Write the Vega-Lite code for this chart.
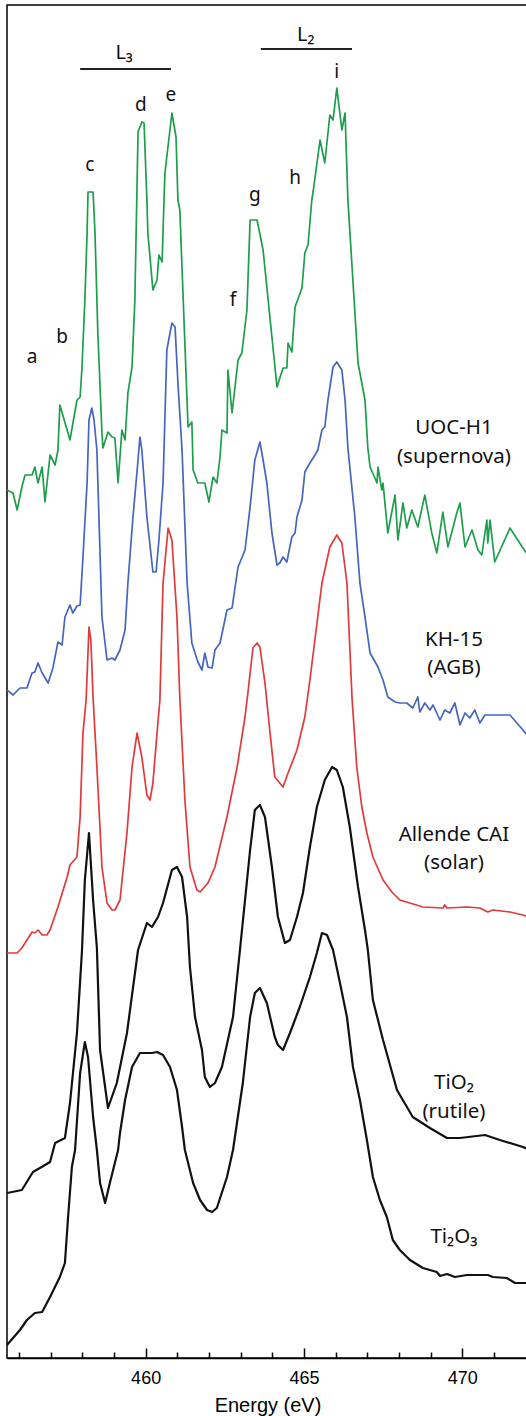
{
 "$schema": "https://vega.github.io/schema/vega-lite/v6.json",
 "width": 521,
 "height": 1353,
 "autosize": {"type": "none"},
 "padding": {"left": 7, "top": 5, "right": 0, "bottom": 58},
 "background": "white",
 "config": {"view": {"stroke": "#000", "strokeWidth": 1.5}},
 "datasets": {
  "spectra": [
   {"sample":"UOC-H1","energy":455.62,"intensity":868},{"sample":"UOC-H1","energy":455.81,"intensity":865},{"sample":"UOC-H1","energy":455.94,"intensity":848},{"sample":"UOC-H1","energy":456.09,"intensity":871},{"sample":"UOC-H1","energy":456.19,"intensity":883},{"sample":"UOC-H1","energy":456.41,"intensity":883},{"sample":"UOC-H1","energy":456.50,"intensity":891},{"sample":"UOC-H1","energy":456.60,"intensity":875},{"sample":"UOC-H1","energy":456.73,"intensity":891},{"sample":"UOC-H1","energy":456.82,"intensity":856},{"sample":"UOC-H1","energy":456.98,"intensity":903},{"sample":"UOC-H1","energy":457.14,"intensity":893},{"sample":"UOC-H1","energy":457.23,"intensity":908},{"sample":"UOC-H1","energy":457.29,"intensity":953},{"sample":"UOC-H1","energy":457.52,"intensity":928},{"sample":"UOC-H1","energy":457.61,"intensity":918},{"sample":"UOC-H1","energy":457.83,"intensity":958},{"sample":"UOC-H1","energy":457.93,"intensity":961},{"sample":"UOC-H1","energy":457.99,"intensity":991},{"sample":"UOC-H1","energy":458.08,"intensity":1058},{"sample":"UOC-H1","energy":458.15,"intensity":1125},{"sample":"UOC-H1","energy":458.18,"intensity":1166},{"sample":"UOC-H1","energy":458.34,"intensity":1166},{"sample":"UOC-H1","energy":458.40,"intensity":1125},{"sample":"UOC-H1","energy":458.49,"intensity":1025},{"sample":"UOC-H1","energy":458.62,"intensity":925},{"sample":"UOC-H1","energy":458.65,"intensity":910},{"sample":"UOC-H1","energy":458.81,"intensity":926},{"sample":"UOC-H1","energy":458.94,"intensity":921},{"sample":"UOC-H1","energy":459.03,"intensity":920},{"sample":"UOC-H1","energy":459.13,"intensity":875},{"sample":"UOC-H1","energy":459.25,"intensity":928},{"sample":"UOC-H1","energy":459.35,"intensity":918},{"sample":"UOC-H1","energy":459.44,"intensity":965},{"sample":"UOC-H1","energy":459.57,"intensity":991},{"sample":"UOC-H1","energy":459.66,"intensity":1058},{"sample":"UOC-H1","energy":459.76,"intensity":1226},{"sample":"UOC-H1","energy":459.88,"intensity":1236},{"sample":"UOC-H1","energy":459.95,"intensity":1235},{"sample":"UOC-H1","energy":460.04,"intensity":1158},{"sample":"UOC-H1","energy":460.07,"intensity":1125},{"sample":"UOC-H1","energy":460.23,"intensity":1068},{"sample":"UOC-H1","energy":460.36,"intensity":1078},{"sample":"UOC-H1","energy":460.42,"intensity":1103},{"sample":"UOC-H1","energy":460.52,"intensity":1096},{"sample":"UOC-H1","energy":460.58,"intensity":1158},{"sample":"UOC-H1","energy":460.61,"intensity":1185},{"sample":"UOC-H1","energy":460.83,"intensity":1245},{"sample":"UOC-H1","energy":460.96,"intensity":1221},{"sample":"UOC-H1","energy":461.02,"intensity":1158},{"sample":"UOC-H1","energy":461.08,"intensity":1148},{"sample":"UOC-H1","energy":461.34,"intensity":931},{"sample":"UOC-H1","energy":461.46,"intensity":936},{"sample":"UOC-H1","energy":461.50,"intensity":888},{"sample":"UOC-H1","energy":461.65,"intensity":875},{"sample":"UOC-H1","energy":461.87,"intensity":875},{"sample":"UOC-H1","energy":462.00,"intensity":856},{"sample":"UOC-H1","energy":462.13,"intensity":881},{"sample":"UOC-H1","energy":462.25,"intensity":875},{"sample":"UOC-H1","energy":462.35,"intensity":901},{"sample":"UOC-H1","energy":462.41,"intensity":928},{"sample":"UOC-H1","energy":462.57,"intensity":925},{"sample":"UOC-H1","energy":462.60,"intensity":988},{"sample":"UOC-H1","energy":462.73,"intensity":945},{"sample":"UOC-H1","energy":462.92,"intensity":998},{"sample":"UOC-H1","energy":463.04,"intensity":1005},{"sample":"UOC-H1","energy":463.20,"intensity":1048},{"sample":"UOC-H1","energy":463.30,"intensity":1138},{"sample":"UOC-H1","energy":463.52,"intensity":1138},{"sample":"UOC-H1","energy":463.71,"intensity":1108},{"sample":"UOC-H1","energy":464.15,"intensity":971},{"sample":"UOC-H1","energy":464.34,"intensity":990},{"sample":"UOC-H1","energy":464.46,"intensity":990},{"sample":"UOC-H1","energy":464.50,"intensity":1015},{"sample":"UOC-H1","energy":464.62,"intensity":1006},{"sample":"UOC-H1","energy":464.72,"intensity":1051},{"sample":"UOC-H1","energy":464.94,"intensity":1070},{"sample":"UOC-H1","energy":465.03,"intensity":1105},{"sample":"UOC-H1","energy":465.13,"intensity":1113},{"sample":"UOC-H1","energy":465.25,"intensity":1158},{"sample":"UOC-H1","energy":465.29,"intensity":1166},{"sample":"UOC-H1","energy":465.51,"intensity":1218},{"sample":"UOC-H1","energy":465.66,"intensity":1195},{"sample":"UOC-H1","energy":465.82,"intensity":1243},{"sample":"UOC-H1","energy":465.92,"intensity":1238},{"sample":"UOC-H1","energy":466.04,"intensity":1270},{"sample":"UOC-H1","energy":466.20,"intensity":1228},{"sample":"UOC-H1","energy":466.30,"intensity":1245},{"sample":"UOC-H1","energy":466.39,"intensity":1158},{"sample":"UOC-H1","energy":466.71,"intensity":995},{"sample":"UOC-H1","energy":466.93,"intensity":958},{"sample":"UOC-H1","energy":467.02,"intensity":910},{"sample":"UOC-H1","energy":467.09,"intensity":891},{"sample":"UOC-H1","energy":467.31,"intensity":875},{"sample":"UOC-H1","energy":467.34,"intensity":891},{"sample":"UOC-H1","energy":467.46,"intensity":868},{"sample":"UOC-H1","energy":467.50,"intensity":875},{"sample":"UOC-H1","energy":467.65,"intensity":825},{"sample":"UOC-H1","energy":467.88,"intensity":863},{"sample":"UOC-H1","energy":467.97,"intensity":818},{"sample":"UOC-H1","energy":468.13,"intensity":855},{"sample":"UOC-H1","energy":468.25,"intensity":830},{"sample":"UOC-H1","energy":468.41,"intensity":848},{"sample":"UOC-H1","energy":468.60,"intensity":831},{"sample":"UOC-H1","energy":468.82,"intensity":863},{"sample":"UOC-H1","energy":469.04,"intensity":825},{"sample":"UOC-H1","energy":469.20,"intensity":805},{"sample":"UOC-H1","energy":469.39,"intensity":846},{"sample":"UOC-H1","energy":469.55,"intensity":811},{"sample":"UOC-H1","energy":469.83,"intensity":845},{"sample":"UOC-H1","energy":469.93,"intensity":855},{"sample":"UOC-H1","energy":470.09,"intensity":811},{"sample":"UOC-H1","energy":470.31,"intensity":828},{"sample":"UOC-H1","energy":470.50,"intensity":808},{"sample":"UOC-H1","energy":470.62,"intensity":803},{"sample":"UOC-H1","energy":470.78,"intensity":838},{"sample":"UOC-H1","energy":470.81,"intensity":815},{"sample":"UOC-H1","energy":470.88,"intensity":838},{"sample":"UOC-H1","energy":471.03,"intensity":796},{"sample":"UOC-H1","energy":471.51,"intensity":830},{"sample":"UOC-H1","energy":471.92,"intensity":810},{"sample":"UOC-H1","energy":472.08,"intensity":803},
   {"sample":"KH-15","energy":455.62,"intensity":668},{"sample":"KH-15","energy":455.81,"intensity":663},{"sample":"KH-15","energy":456.03,"intensity":670},{"sample":"KH-15","energy":456.25,"intensity":670},{"sample":"KH-15","energy":456.41,"intensity":685},{"sample":"KH-15","energy":456.50,"intensity":686},{"sample":"KH-15","energy":456.60,"intensity":695},{"sample":"KH-15","energy":456.73,"intensity":685},{"sample":"KH-15","energy":456.92,"intensity":675},{"sample":"KH-15","energy":457.07,"intensity":690},{"sample":"KH-15","energy":457.23,"intensity":716},{"sample":"KH-15","energy":457.36,"intensity":713},{"sample":"KH-15","energy":457.45,"intensity":741},{"sample":"KH-15","energy":457.61,"intensity":753},{"sample":"KH-15","energy":457.70,"intensity":745},{"sample":"KH-15","energy":457.83,"intensity":752},{"sample":"KH-15","energy":457.93,"intensity":753},{"sample":"KH-15","energy":458.02,"intensity":801},{"sample":"KH-15","energy":458.15,"intensity":875},{"sample":"KH-15","energy":458.21,"intensity":938},{"sample":"KH-15","energy":458.30,"intensity":950},{"sample":"KH-15","energy":458.37,"intensity":938},{"sample":"KH-15","energy":458.46,"intensity":908},{"sample":"KH-15","energy":458.62,"intensity":741},{"sample":"KH-15","energy":458.78,"intensity":698},{"sample":"KH-15","energy":458.94,"intensity":700},{"sample":"KH-15","energy":459.03,"intensity":698},{"sample":"KH-15","energy":459.19,"intensity":708},{"sample":"KH-15","energy":459.35,"intensity":728},{"sample":"KH-15","energy":459.44,"intensity":775},{"sample":"KH-15","energy":459.60,"intensity":841},{"sample":"KH-15","energy":459.76,"intensity":898},{"sample":"KH-15","energy":459.82,"intensity":921},{"sample":"KH-15","energy":459.88,"intensity":908},{"sample":"KH-15","energy":460.04,"intensity":841},{"sample":"KH-15","energy":460.23,"intensity":786},{"sample":"KH-15","energy":460.33,"intensity":786},{"sample":"KH-15","energy":460.42,"intensity":818},{"sample":"KH-15","energy":460.55,"intensity":875},{"sample":"KH-15","energy":460.67,"intensity":1008},{"sample":"KH-15","energy":460.83,"intensity":1035},{"sample":"KH-15","energy":460.93,"intensity":1031},{"sample":"KH-15","energy":461.02,"intensity":975},{"sample":"KH-15","energy":461.15,"intensity":908},{"sample":"KH-15","energy":461.31,"intensity":775},{"sample":"KH-15","energy":461.46,"intensity":715},{"sample":"KH-15","energy":461.65,"intensity":696},{"sample":"KH-15","energy":461.78,"intensity":688},{"sample":"KH-15","energy":461.87,"intensity":705},{"sample":"KH-15","energy":461.97,"intensity":691},{"sample":"KH-15","energy":462.10,"intensity":690},{"sample":"KH-15","energy":462.19,"intensity":708},{"sample":"KH-15","energy":462.35,"intensity":715},{"sample":"KH-15","energy":462.57,"intensity":748},{"sample":"KH-15","energy":462.73,"intensity":750},{"sample":"KH-15","energy":462.92,"intensity":791},{"sample":"KH-15","energy":463.14,"intensity":808},{"sample":"KH-15","energy":463.30,"intensity":851},{"sample":"KH-15","energy":463.45,"intensity":898},{"sample":"KH-15","energy":463.61,"intensity":916},{"sample":"KH-15","energy":463.71,"intensity":898},{"sample":"KH-15","energy":463.83,"intensity":875},{"sample":"KH-15","energy":463.99,"intensity":825},{"sample":"KH-15","energy":464.15,"intensity":793},{"sample":"KH-15","energy":464.24,"intensity":795},{"sample":"KH-15","energy":464.34,"intensity":801},{"sample":"KH-15","energy":464.46,"intensity":796},{"sample":"KH-15","energy":464.62,"intensity":821},{"sample":"KH-15","energy":464.72,"intensity":825},{"sample":"KH-15","energy":464.78,"intensity":841},{"sample":"KH-15","energy":464.94,"intensity":858},{"sample":"KH-15","energy":465.03,"intensity":886},{"sample":"KH-15","energy":465.19,"intensity":895},{"sample":"KH-15","energy":465.35,"intensity":903},{"sample":"KH-15","energy":465.44,"intensity":908},{"sample":"KH-15","energy":465.57,"intensity":928},{"sample":"KH-15","energy":465.66,"intensity":931},{"sample":"KH-15","energy":465.76,"intensity":958},{"sample":"KH-15","energy":465.92,"intensity":991},{"sample":"KH-15","energy":466.04,"intensity":996},{"sample":"KH-15","energy":466.20,"intensity":988},{"sample":"KH-15","energy":466.30,"intensity":958},{"sample":"KH-15","energy":466.39,"intensity":910},{"sample":"KH-15","energy":466.61,"intensity":841},{"sample":"KH-15","energy":466.77,"intensity":775},{"sample":"KH-15","energy":466.93,"intensity":741},{"sample":"KH-15","energy":467.09,"intensity":705},{"sample":"KH-15","energy":467.34,"intensity":691},{"sample":"KH-15","energy":467.50,"intensity":678},{"sample":"KH-15","energy":467.65,"intensity":661},{"sample":"KH-15","energy":467.88,"intensity":656},{"sample":"KH-15","energy":468.03,"intensity":655},{"sample":"KH-15","energy":468.25,"intensity":655},{"sample":"KH-15","energy":468.44,"intensity":650},{"sample":"KH-15","energy":468.60,"intensity":661},{"sample":"KH-15","energy":468.66,"intensity":646},{"sample":"KH-15","energy":468.82,"intensity":655},{"sample":"KH-15","energy":468.98,"intensity":648},{"sample":"KH-15","energy":469.08,"intensity":653},{"sample":"KH-15","energy":469.30,"intensity":638},{"sample":"KH-15","energy":469.45,"intensity":648},{"sample":"KH-15","energy":469.61,"intensity":645},{"sample":"KH-15","energy":469.77,"intensity":655},{"sample":"KH-15","energy":469.93,"intensity":633},{"sample":"KH-15","energy":470.09,"intensity":645},{"sample":"KH-15","energy":470.24,"intensity":640},{"sample":"KH-15","energy":470.40,"intensity":648},{"sample":"KH-15","energy":470.56,"intensity":635},{"sample":"KH-15","energy":470.72,"intensity":643},{"sample":"KH-15","energy":470.97,"intensity":643},{"sample":"KH-15","energy":471.51,"intensity":643},{"sample":"KH-15","energy":471.92,"intensity":628},{"sample":"KH-15","energy":472.08,"intensity":622},
   {"sample":"Allende CAI","energy":455.62,"intensity":405},{"sample":"Allende CAI","energy":455.94,"intensity":405},{"sample":"Allende CAI","energy":456.09,"intensity":410},{"sample":"Allende CAI","energy":456.41,"intensity":426},{"sample":"Allende CAI","energy":456.50,"intensity":425},{"sample":"Allende CAI","energy":456.60,"intensity":428},{"sample":"Allende CAI","energy":456.73,"intensity":423},{"sample":"Allende CAI","energy":456.88,"intensity":423},{"sample":"Allende CAI","energy":456.98,"intensity":428},{"sample":"Allende CAI","energy":457.23,"intensity":451},{"sample":"Allende CAI","energy":457.52,"intensity":481},{"sample":"Allende CAI","energy":457.61,"intensity":493},{"sample":"Allende CAI","energy":457.83,"intensity":501},{"sample":"Allende CAI","energy":457.93,"intensity":541},{"sample":"Allende CAI","energy":458.02,"intensity":625},{"sample":"Allende CAI","energy":458.12,"intensity":658},{"sample":"Allende CAI","energy":458.21,"intensity":731},{"sample":"Allende CAI","energy":458.27,"intensity":718},{"sample":"Allende CAI","energy":458.34,"intensity":660},{"sample":"Allende CAI","energy":458.46,"intensity":591},{"sample":"Allende CAI","energy":458.62,"intensity":491},{"sample":"Allende CAI","energy":458.78,"intensity":455},{"sample":"Allende CAI","energy":458.94,"intensity":448},{"sample":"Allende CAI","energy":459.03,"intensity":448},{"sample":"Allende CAI","energy":459.19,"intensity":458},{"sample":"Allende CAI","energy":459.41,"intensity":525},{"sample":"Allende CAI","energy":459.57,"intensity":591},{"sample":"Allende CAI","energy":459.73,"intensity":625},{"sample":"Allende CAI","energy":459.88,"intensity":601},{"sample":"Allende CAI","energy":460.04,"intensity":563},{"sample":"Allende CAI","energy":460.14,"intensity":558},{"sample":"Allende CAI","energy":460.23,"intensity":575},{"sample":"Allende CAI","energy":460.36,"intensity":625},{"sample":"Allende CAI","energy":460.45,"intensity":658},{"sample":"Allende CAI","energy":460.55,"intensity":775},{"sample":"Allende CAI","energy":460.71,"intensity":830},{"sample":"Allende CAI","energy":460.83,"intensity":818},{"sample":"Allende CAI","energy":460.99,"intensity":741},{"sample":"Allende CAI","energy":461.08,"intensity":660},{"sample":"Allende CAI","energy":461.24,"intensity":558},{"sample":"Allende CAI","energy":461.40,"intensity":491},{"sample":"Allende CAI","energy":461.62,"intensity":468},{"sample":"Allende CAI","energy":461.72,"intensity":466},{"sample":"Allende CAI","energy":461.97,"intensity":475},{"sample":"Allende CAI","energy":462.19,"intensity":491},{"sample":"Allende CAI","energy":462.57,"intensity":541},{"sample":"Allende CAI","energy":462.89,"intensity":591},{"sample":"Allende CAI","energy":463.14,"intensity":641},{"sample":"Allende CAI","energy":463.23,"intensity":665},{"sample":"Allende CAI","energy":463.39,"intensity":710},{"sample":"Allende CAI","energy":463.52,"intensity":715},{"sample":"Allende CAI","energy":463.61,"intensity":711},{"sample":"Allende CAI","energy":463.77,"intensity":675},{"sample":"Allende CAI","energy":463.93,"intensity":625},{"sample":"Allende CAI","energy":464.08,"intensity":581},{"sample":"Allende CAI","energy":464.34,"intensity":571},{"sample":"Allende CAI","energy":464.50,"intensity":585},{"sample":"Allende CAI","energy":464.78,"intensity":608},{"sample":"Allende CAI","energy":465.03,"intensity":641},{"sample":"Allende CAI","energy":465.19,"intensity":678},{"sample":"Allende CAI","energy":465.57,"intensity":775},{"sample":"Allende CAI","energy":465.82,"intensity":811},{"sample":"Allende CAI","energy":466.04,"intensity":823},{"sample":"Allende CAI","energy":466.20,"intensity":815},{"sample":"Allende CAI","energy":466.36,"intensity":775},{"sample":"Allende CAI","energy":466.52,"intensity":660},{"sample":"Allende CAI","energy":466.67,"intensity":591},{"sample":"Allende CAI","energy":466.83,"intensity":551},{"sample":"Allende CAI","energy":466.99,"intensity":525},{"sample":"Allende CAI","energy":467.18,"intensity":501},{"sample":"Allende CAI","energy":467.50,"intensity":478},{"sample":"Allende CAI","energy":467.78,"intensity":466},{"sample":"Allende CAI","energy":468.03,"intensity":458},{"sample":"Allende CAI","energy":468.35,"intensity":455},{"sample":"Allende CAI","energy":468.76,"intensity":451},{"sample":"Allende CAI","energy":469.39,"intensity":450},{"sample":"Allende CAI","energy":469.45,"intensity":453},{"sample":"Allende CAI","energy":469.52,"intensity":450},{"sample":"Allende CAI","energy":470.15,"intensity":451},{"sample":"Allende CAI","energy":470.56,"intensity":450},{"sample":"Allende CAI","energy":470.81,"intensity":446},{"sample":"Allende CAI","energy":470.97,"intensity":448},{"sample":"Allende CAI","energy":471.51,"intensity":446},{"sample":"Allende CAI","energy":471.92,"intensity":443},{"sample":"Allende CAI","energy":472.08,"intensity":441},
   {"sample":"TiO2","energy":455.62,"intensity":165},{"sample":"TiO2","energy":456.09,"intensity":168},{"sample":"TiO2","energy":456.44,"intensity":186},{"sample":"TiO2","energy":456.66,"intensity":190},{"sample":"TiO2","energy":456.98,"intensity":196},{"sample":"TiO2","energy":457.14,"intensity":215},{"sample":"TiO2","energy":457.45,"intensity":220},{"sample":"TiO2","energy":457.61,"intensity":255},{"sample":"TiO2","energy":457.83,"intensity":325},{"sample":"TiO2","energy":457.99,"intensity":408},{"sample":"TiO2","energy":458.08,"intensity":478},{"sample":"TiO2","energy":458.21,"intensity":525},{"sample":"TiO2","energy":458.34,"intensity":458},{"sample":"TiO2","energy":458.46,"intensity":410},{"sample":"TiO2","energy":458.56,"intensity":308},{"sample":"TiO2","energy":458.81,"intensity":250},{"sample":"TiO2","energy":459.09,"intensity":275},{"sample":"TiO2","energy":459.41,"intensity":325},{"sample":"TiO2","energy":459.76,"intensity":408},{"sample":"TiO2","energy":460.04,"intensity":435},{"sample":"TiO2","energy":460.20,"intensity":431},{"sample":"TiO2","energy":460.39,"intensity":441},{"sample":"TiO2","energy":460.55,"intensity":455},{"sample":"TiO2","energy":460.83,"intensity":488},{"sample":"TiO2","energy":460.99,"intensity":491},{"sample":"TiO2","energy":461.15,"intensity":481},{"sample":"TiO2","energy":461.31,"intensity":441},{"sample":"TiO2","energy":461.40,"intensity":391},{"sample":"TiO2","energy":461.56,"intensity":341},{"sample":"TiO2","energy":461.78,"intensity":308},{"sample":"TiO2","energy":461.87,"intensity":281},{"sample":"TiO2","energy":462.03,"intensity":271},{"sample":"TiO2","energy":462.19,"intensity":275},{"sample":"TiO2","energy":462.41,"intensity":291},{"sample":"TiO2","energy":462.76,"intensity":341},{"sample":"TiO2","energy":462.98,"intensity":408},{"sample":"TiO2","energy":463.30,"intensity":508},{"sample":"TiO2","energy":463.45,"intensity":548},{"sample":"TiO2","energy":463.61,"intensity":553},{"sample":"TiO2","energy":463.77,"intensity":541},{"sample":"TiO2","energy":463.99,"intensity":491},{"sample":"TiO2","energy":464.18,"intensity":441},{"sample":"TiO2","energy":464.40,"intensity":415},{"sample":"TiO2","energy":464.56,"intensity":418},{"sample":"TiO2","energy":464.78,"intensity":441},{"sample":"TiO2","energy":464.97,"intensity":465},{"sample":"TiO2","energy":465.19,"intensity":511},{"sample":"TiO2","energy":465.41,"intensity":551},{"sample":"TiO2","energy":465.66,"intensity":578},{"sample":"TiO2","energy":465.89,"intensity":591},{"sample":"TiO2","energy":466.04,"intensity":588},{"sample":"TiO2","energy":466.23,"intensity":571},{"sample":"TiO2","energy":466.45,"intensity":531},{"sample":"TiO2","energy":466.71,"intensity":471},{"sample":"TiO2","energy":466.93,"intensity":428},{"sample":"TiO2","energy":467.02,"intensity":408},{"sample":"TiO2","energy":467.18,"intensity":358},{"sample":"TiO2","energy":467.50,"intensity":318},{"sample":"TiO2","energy":467.94,"intensity":268},{"sample":"TiO2","energy":468.44,"intensity":241},{"sample":"TiO2","energy":468.98,"intensity":230},{"sample":"TiO2","energy":469.52,"intensity":220},{"sample":"TiO2","energy":469.93,"intensity":220},{"sample":"TiO2","energy":470.72,"intensity":223},{"sample":"TiO2","energy":471.19,"intensity":218},{"sample":"TiO2","energy":471.92,"intensity":211},{"sample":"TiO2","energy":472.08,"intensity":209},
   {"sample":"Ti2O3","energy":455.62,"intensity":13},{"sample":"Ti2O3","energy":455.81,"intensity":20},{"sample":"Ti2O3","energy":456.03,"intensity":28},{"sample":"Ti2O3","energy":456.25,"intensity":38},{"sample":"Ti2O3","energy":456.50,"intensity":45},{"sample":"Ti2O3","energy":456.73,"intensity":46},{"sample":"Ti2O3","energy":456.98,"intensity":61},{"sample":"Ti2O3","energy":457.29,"intensity":81},{"sample":"Ti2O3","energy":457.45,"intensity":95},{"sample":"Ti2O3","energy":457.55,"intensity":141},{"sample":"Ti2O3","energy":457.67,"intensity":191},{"sample":"Ti2O3","energy":457.77,"intensity":208},{"sample":"Ti2O3","energy":457.93,"intensity":285},{"sample":"Ti2O3","energy":458.08,"intensity":316},{"sample":"Ti2O3","energy":458.18,"intensity":301},{"sample":"Ti2O3","energy":458.34,"intensity":241},{"sample":"Ti2O3","energy":458.46,"intensity":208},{"sample":"Ti2O3","energy":458.56,"intensity":175},{"sample":"Ti2O3","energy":458.72,"intensity":155},{"sample":"Ti2O3","energy":458.87,"intensity":175},{"sample":"Ti2O3","energy":459.13,"intensity":208},{"sample":"Ti2O3","energy":459.19,"intensity":225},{"sample":"Ti2O3","energy":459.35,"intensity":258},{"sample":"Ti2O3","energy":459.57,"intensity":291},{"sample":"Ti2O3","energy":459.82,"intensity":305},{"sample":"Ti2O3","energy":460.20,"intensity":305},{"sample":"Ti2O3","energy":460.36,"intensity":306},{"sample":"Ti2O3","energy":460.55,"intensity":303},{"sample":"Ti2O3","energy":460.77,"intensity":291},{"sample":"Ti2O3","energy":460.99,"intensity":268},{"sample":"Ti2O3","energy":461.15,"intensity":231},{"sample":"Ti2O3","energy":461.24,"intensity":208},{"sample":"Ti2O3","energy":461.50,"intensity":175},{"sample":"Ti2O3","energy":461.72,"intensity":158},{"sample":"Ti2O3","energy":461.94,"intensity":148},{"sample":"Ti2O3","energy":462.10,"intensity":146},{"sample":"Ti2O3","energy":462.25,"intensity":150},{"sample":"Ti2O3","energy":462.57,"intensity":181},{"sample":"Ti2O3","energy":462.76,"intensity":208},{"sample":"Ti2O3","energy":463.07,"intensity":275},{"sample":"Ti2O3","energy":463.30,"intensity":341},{"sample":"Ti2O3","energy":463.45,"intensity":365},{"sample":"Ti2O3","energy":463.61,"intensity":370},{"sample":"Ti2O3","energy":463.83,"intensity":355},{"sample":"Ti2O3","energy":464.08,"intensity":321},{"sample":"Ti2O3","energy":464.18,"intensity":313},{"sample":"Ti2O3","energy":464.34,"intensity":308},{"sample":"Ti2O3","energy":464.56,"intensity":325},{"sample":"Ti2O3","energy":464.87,"intensity":351},{"sample":"Ti2O3","energy":465.19,"intensity":381},{"sample":"Ti2O3","energy":465.41,"intensity":405},{"sample":"Ti2O3","energy":465.57,"intensity":425},{"sample":"Ti2O3","energy":465.73,"intensity":423},{"sample":"Ti2O3","energy":465.92,"intensity":408},{"sample":"Ti2O3","energy":466.14,"intensity":375},{"sample":"Ti2O3","energy":466.36,"intensity":341},{"sample":"Ti2O3","energy":466.55,"intensity":291},{"sample":"Ti2O3","energy":466.77,"intensity":258},{"sample":"Ti2O3","energy":466.99,"intensity":218},{"sample":"Ti2O3","energy":467.18,"intensity":181},{"sample":"Ti2O3","energy":467.40,"intensity":158},{"sample":"Ti2O3","energy":467.62,"intensity":141},{"sample":"Ti2O3","energy":467.81,"intensity":118},{"sample":"Ti2O3","energy":468.03,"intensity":108},{"sample":"Ti2O3","energy":468.35,"intensity":98},{"sample":"Ti2O3","energy":468.76,"intensity":90},{"sample":"Ti2O3","energy":469.20,"intensity":86},{"sample":"Ti2O3","energy":469.30,"intensity":82},{"sample":"Ti2O3","energy":469.52,"intensity":84},{"sample":"Ti2O3","energy":469.77,"intensity":81},{"sample":"Ti2O3","energy":470.15,"intensity":83},{"sample":"Ti2O3","energy":470.81,"intensity":83},{"sample":"Ti2O3","energy":470.97,"intensity":81},{"sample":"Ti2O3","energy":471.41,"intensity":80},{"sample":"Ti2O3","energy":471.67,"intensity":75},{"sample":"Ti2O3","energy":471.92,"intensity":75},{"sample":"Ti2O3","energy":472.08,"intensity":75}
  ],
  "peaks": [
   {"label":"a","energy":456.41,"intensity":1001},{"label":"b","energy":457.36,"intensity":1021},{"label":"c","energy":458.24,"intensity":1193},{"label":"d","energy":459.85,"intensity":1253},{"label":"e","energy":460.80,"intensity":1263},{"label":"f","energy":462.76,"intensity":1058},{"label":"g","energy":463.45,"intensity":1163},{"label":"h","energy":464.72,"intensity":1180},{"label":"i","energy":466.04,"intensity":1286}
  ],
  "edges": [
   {"label":"L₃","energy":459.32,"energy2":457.93,"energy3":460.80,"intensity":1305,"bar":1289},
   {"label":"L₂","energy":465.06,"energy2":463.64,"energy3":466.52,"intensity":1323,"bar":1309}
  ],
  "samples": [
   {"label":"UOC-H1","energy":469.74,"intensity":930},{"label":"(supernova)","energy":469.74,"intensity":901},
   {"label":"KH-15","energy":469.74,"intensity":718},{"label":"(AGB)","energy":469.74,"intensity":690},
   {"label":"Allende CAI","energy":469.74,"intensity":523},{"label":"(solar)","energy":469.74,"intensity":495},
   {"label":"TiO₂","energy":469.74,"intensity":275},{"label":"(rutile)","energy":469.74,"intensity":246},
   {"label":"Ti₂O₃","energy":469.74,"intensity":121}
  ]
 },
 "encoding": {
  "x": {"field": "energy", "type": "quantitative",
   "scale": {"domain": [455.62, 472.08], "nice": false, "zero": false},
   "axis": {
    "values": [456,457,458,459,460,461,462,463,464,465,466,467,468,469,470,471],
    "labelExpr": "datum.value % 5 === 0 ? datum.label : ''",
    "tickSize": {"condition": {"test": "datum.value % 5 === 0", "value": -10}, "value": -6},
    "tickColor": "#000", "tickWidth": 1.5,
    "domainColor": "#000", "domainWidth": 1.5,
    "labelFont": "Liberation Sans", "labelFontSize": 18, "labelColor": "#000",
    "labelPadding": 21, "labelFlush": false, "labelOverlap": false,
    "grid": false,
    "title": "Energy (eV)", "titleFont": "Liberation Sans", "titleFontSize": 20,
    "titleFontWeight": "normal", "titleColor": "#000", "titlePadding": 4
   }},
  "y": {"field": "intensity", "type": "quantitative",
   "scale": {"domain": [0, 1353], "nice": false, "zero": false}, "axis": null}
 },
 "layer": [
  {"data": {"name": "spectra"},
   "transform": [{"filter": "datum.sample === 'UOC-H1' || datum.sample === 'KH-15' || datum.sample === 'Allende CAI'"}],
   "mark": {"type": "line", "clip": true, "strokeWidth": 1.7, "strokeJoin": "round"},
   "encoding": {"color": {"field": "sample", "type": "nominal",
     "scale": {"domain": ["UOC-H1", "KH-15", "Allende CAI"], "range": ["#1d9e4c", "#4565bf", "#e23a3b"]}, "legend": null},
    "detail": {"field": "sample"}}},
  {"data": {"name": "spectra"},
   "transform": [{"filter": "datum.sample === 'TiO2' || datum.sample === 'Ti2O3'"}],
   "mark": {"type": "line", "clip": true, "strokeWidth": 2.2, "color": "#111", "strokeJoin": "round"},
   "encoding": {"detail": {"field": "sample"}}},
  {"data": {"name": "edges"},
   "mark": {"type": "rule", "color": "#222", "strokeWidth": 1.8},
   "encoding": {"x": {"field": "energy2", "type": "quantitative"}, "x2": {"field": "energy3"}, "y": {"field": "bar", "type": "quantitative"}}},
  {"data": {"name": "edges"},
   "mark": {"type": "text", "font": "Noto Sans", "fontSize": 20, "color": "#111", "baseline": "middle", "align": "center"},
   "encoding": {"text": {"field": "label"}}},
  {"data": {"name": "peaks"},
   "mark": {"type": "text", "font": "Noto Sans", "fontSize": 19, "color": "#111", "baseline": "middle", "align": "center"},
   "encoding": {"text": {"field": "label"}}},
  {"data": {"name": "samples"},
   "mark": {"type": "text", "font": "Noto Sans", "fontSize": 20.5, "color": "#111", "baseline": "middle", "align": "center"},
   "encoding": {"text": {"field": "label"}}}
 ]
}
